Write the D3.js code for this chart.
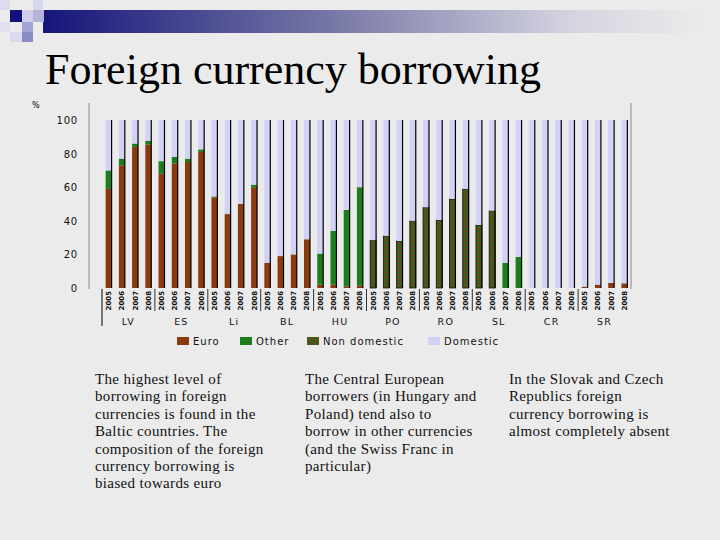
<!DOCTYPE html>
<html>
<head>
<meta charset="utf-8">
<script src="https://cdn.jsdelivr.net/npm/d3@7"></script>
<style>
  body { margin: 0; background: #ebebeb; }
  svg { display: block; }
</style>
</head>
<body>
<div id="chart"></div>
<script>
// data
var countries = ["LV", "ES", "Li", "BL", "HU", "PO", "RO", "SL", "CR", "SR"];
var years = ["2005", "2006", "2007", "2008"];
var yTicks = [0, 20, 40, 60, 80, 100];
var seriesNames = ["Euro", "Other", "Non domestic", "Domestic"];

var euro = [59, 73, 84, 85.5, 68, 74, 75, 81, 54, 44, 50, 60, 15, 19, 20, 29, 2, 2, 1, 1.5,
            0, 0, 0, 0, 0, 0, 0, 0, 0, 0, 0, 0, 0, 0, 0, 0, 0.8, 2, 3, 2.8];
var other = [11, 4, 2, 2, 7.5, 4, 2, 1.5, 0.5, 0, 0, 1.5, 0, 0, 0, 0, 18.5, 32, 45.5, 58.5,
             0, 0, 0, 0, 0, 0, 0, 0, 0, 0, 15, 18.5, 0, 0, 0, 0, 0, 0, 0, 0];
var nonDomestic = [0, 0, 0, 0, 0, 0, 0, 0, 0, 0, 0, 0, 0, 0, 0, 0, 0, 0, 0, 0,
                   28.5, 31, 28, 40, 48, 40.5, 53, 59, 37.5, 46, 0, 0, 0, 0, 0, 0, 0, 0, 0, 0];
var domestic = [30, 23, 14, 12.5, 24.5, 22, 23, 17.5, 45.5, 56, 50, 38.5, 85, 81, 80, 71, 79.5, 66, 53.5, 40,
                71.5, 69, 72, 60, 52, 59.5, 47, 41, 62.5, 54, 85, 81.5, 100, 100, 100, 100, 99.2, 98, 97, 97.2];

var colors = ["#8a3a0f", "#1d7d1d", "url(#hatch)", "#d2d2f6"];

var svg = d3.select("#chart").append("svg").attr("width", 720).attr("height", 540);

var defs = svg.append("defs");
var grad = defs.append("linearGradient").attr("id", "hdr");
grad.append("stop").attr("offset", "0").attr("stop-color", "#15157a");
grad.append("stop").attr("offset", "0.45").attr("stop-color", "#7a7aa8");
grad.append("stop").attr("offset", "0.8").attr("stop-color", "#d4d4e0");
grad.append("stop").attr("offset", "1").attr("stop-color", "#ebebeb");

var pat = defs.append("pattern").attr("id", "hatch")
    .attr("patternUnits", "userSpaceOnUse").attr("width", 4).attr("height", 4)
    .attr("patternTransform", "rotate(-60)");
pat.append("rect").attr("width", 4).attr("height", 4).attr("fill", "#2e671a");
pat.append("rect").attr("width", 1.8).attr("height", 4).attr("fill", "#70401a");

svg.append("rect").attr("width", 720).attr("height", 540).attr("fill", "#ebebeb");

// slide header decoration
svg.append("rect").attr("x", 43).attr("y", 10).attr("width", 660).attr("height", 23).attr("fill", "url(#hdr)");
var squares = [
  [0, 0, 10, 10, "#dcdcee"], [33, 0, 10, 10, "#d6d6ec"], [10, 10, 12, 12, "#12127c"],
  [22, 10, 11, 12, "#cfcfe9"], [33, 10, 11, 12, "#b4b4da"], [0, 22, 10, 10, "#e0e0f0"],
  [22, 22, 11, 10, "#a2a2d4"], [10, 32, 12, 10, "#dadaee"], [22, 32, 11, 10, "#8a8ac6"]
];
svg.selectAll(".sq").data(squares).enter().append("rect")
    .attr("x", function(d) { return d[0]; }).attr("y", function(d) { return d[1]; })
    .attr("width", function(d) { return d[2]; }).attr("height", function(d) { return d[3]; })
    .attr("fill", function(d) { return d[4]; });

svg.append("text").attr("x", 45).attr("y", 84)
    .attr("font-family", "Liberation Serif, Times New Roman, serif").attr("font-size", 44)
    .attr("fill", "#000").text("Foreign currency borrowing");

// chart
var keys = [];
countries.forEach(function(c) { years.forEach(function(y) { keys.push(c + "-" + y); }); });

var x = d3.scaleBand().domain(keys).range([102, 631]).paddingInner(0.55).paddingOuter(0.275);
var y = d3.scaleLinear().domain([0, 100]).range([288, 120]);

svg.append("line").attr("x1", 89).attr("x2", 89).attr("y1", 103).attr("y2", 289).attr("stroke", "#8a8a8a");
svg.append("line").attr("x1", 631).attr("x2", 631).attr("y1", 103).attr("y2", 289).attr("stroke", "#8a8a8a");

svg.append("text").attr("x", 32).attr("y", 108).attr("font-family", "DejaVu Sans, sans-serif")
    .attr("font-size", 8).text("%");

svg.append("g").selectAll("text").data(yTicks).enter().append("text")
    .attr("x", 78).attr("y", function(d) { return y(d) + 4; })
    .attr("text-anchor", "end").attr("font-family", "DejaVu Sans, sans-serif")
    .attr("font-size", 10).attr("letter-spacing", 0.8).attr("fill", "#111")
    .text(function(d) { return d; });

var rows = keys.map(function(k, i) {
  return { key: k, Euro: euro[i], Other: other[i], "Non domestic": nonDomestic[i], Domestic: domestic[i] };
});
var stack = d3.stack().keys(seriesNames)(rows);

var layers = svg.append("g").selectAll("g").data(stack).enter().append("g")
    .attr("fill", function(d, i) { return colors[i]; });
layers.selectAll("rect").data(function(d) { return d; }).enter().append("rect")
    .attr("x", function(d) { return x(d.data.key); })
    .attr("y", function(d) { return y(d[1]); })
    .attr("width", x.bandwidth())
    .attr("height", function(d) { return y(d[0]) - y(d[1]); })
    .attr("stroke", function(d, i, n) { return d3.select(n[i].parentNode).datum().key == "Non domestic" && d[1] > d[0] ? "#111" : "none"; })
    .attr("stroke-width", 0.8);

// dark right edge on each bar
svg.append("g").selectAll("line").data(keys).enter().append("line")
    .attr("x1", function(k) { return x(k) + x.bandwidth(); })
    .attr("x2", function(k) { return x(k) + x.bandwidth(); })
    .attr("y1", y(100)).attr("y2", y(0))
    .attr("stroke", "#000").attr("stroke-width", 1.2);

// year labels
svg.append("g").selectAll("text").data(keys).enter().append("text")
    .attr("transform", function(k) { return "translate(" + (x(k) + x.bandwidth() / 2 + 2.5) + ",291) rotate(-90)"; })
    .attr("text-anchor", "end").attr("font-family", "DejaVu Sans, sans-serif")
    .attr("font-size", 7).attr("font-weight", "bold").attr("fill", "#111")
    .text(function(k) { return k.split("-")[1]; });

// group separators and country labels
var step = x.step();
svg.append("line").attr("x1", 102).attr("x2", 102).attr("y1", 289).attr("y2", 326).attr("stroke", "#000");
svg.append("g").selectAll("line").data(countries.slice(1)).enter().append("line")
    .attr("x1", function(c) { return x(c + "-2005") - step * 0.275; })
    .attr("x2", function(c) { return x(c + "-2005") - step * 0.275; })
    .attr("y1", 289).attr("y2", 311).attr("stroke", "#000").attr("stroke-width", 0.8);

svg.append("g").selectAll("text").data(countries).enter().append("text")
    .attr("x", function(c) { return (x(c + "-2005") + x(c + "-2008") + x.bandwidth()) / 2; })
    .attr("y", 325).attr("text-anchor", "middle")
    .attr("font-family", "DejaVu Sans, sans-serif").attr("font-size", 9.5)
    .attr("letter-spacing", 1.2).attr("fill", "#111")
    .text(function(c) { return c; });

// legend
var legendX = [177, 240, 307, 428];
var legend = svg.append("g").selectAll("g").data(seriesNames).enter().append("g")
    .attr("transform", function(d, i) { return "translate(" + legendX[i] + ",337)"; });
legend.append("rect").attr("width", 12).attr("height", 8)
    .attr("fill", function(d, i) { return colors[i]; });
legend.append("text").attr("x", 16).attr("y", 8)
    .attr("font-family", "DejaVu Sans, sans-serif").attr("font-size", 10)
    .attr("letter-spacing", 1).attr("fill", "#111")
    .text(function(d) { return d; });

// notes under the chart
var notes = [
  { x: 95, lines: ["The highest level of", "borrowing in foreign", "currencies is found in the",
                   "Baltic countries. The", "composition of the foreign", "currency borrowing is", "biased towards euro"] },
  { x: 305, lines: ["The Central European", "borrowers (in Hungary and", "Poland) tend also to",
                    "borrow in other currencies", "(and the Swiss Franc in", "particular)"] },
  { x: 509, lines: ["In the Slovak and Czech", "Republics foreign", "currency borrowing is", "almost completely absent"] }
];
var noteText = svg.append("g").selectAll("text").data(notes).enter().append("text")
    .attr("font-family", "Liberation Serif, Times New Roman, serif").attr("font-size", 15)
    .attr("letter-spacing", 0.35).attr("fill", "#111");
noteText.selectAll("tspan").data(function(d) { return d.lines.map(function(l) { return { x: d.x, t: l }; }); })
    .enter().append("tspan")
    .attr("x", function(d) { return d.x; })
    .attr("y", function(d, i) { return 384 + i * 17.4; })
    .text(function(d) { return d.t; });
</script>
</body>
</html>
